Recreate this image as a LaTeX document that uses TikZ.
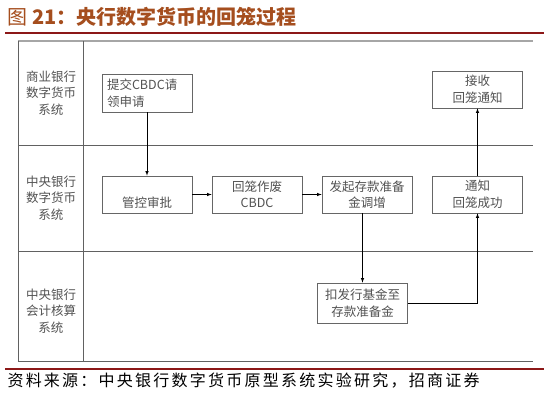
\documentclass[tikz,border=0pt]{standalone}
\usepackage{fontspec}
\setmainfont{Noto Sans CJK SC}
\newfontfamily\srcfont[LetterSpace=14]{Noto Sans CJK SC}
\begin{document}
\begin{tikzpicture}[x=1pt,y=-1pt]
\colorlet{gridc}{black!62}
\colorlet{txt}{black!68}
\definecolor{titlec}{RGB}{165,78,30}
\definecolor{redrule}{RGB}{140,24,24}
\tikzset{box/.style={draw=black!60,line width=0.7pt,minimum width=90pt,minimum height=37pt,
                     inner sep=2pt,align=center,text=txt,font=\fontsize{12.5}{16.5}\selectfont},
         lab/.style={align=center,text=txt,font=\fontsize{12.5}{16.5}\selectfont},
         arr/.style={->,>=latex,line width=0.6pt}}

\useasboundingbox[fill=white] (0,0) rectangle (549,400);

% title, rules and source
\node[anchor=west,text=titlec,font=\fontsize{20}{20}\selectfont] (title) at (4,17) {图 \textbf{21：央行数字货币的回笼过程}};
\draw[redrule,line width=1.5pt] (5,33) -- (544,33);
\draw[redrule,line width=1.5pt] (5,369) -- (544,369);
\node[anchor=west,font=\srcfont\fontsize{16}{16}\selectfont] (src) at (4,381) {资料来源：中央银行数字货币原型系统实验研究，招商证券};

% the lanes
\draw[black!35,line width=1.5pt] (18,41) -- (533,41);
\draw[gridc,line width=0.8pt] (18,41) -- (18,361) (83,41) -- (83,361);
\foreach \y in {145,251,361} \draw[gridc,line width=0.8pt] (18,\y) -- (533,\y);

% lane labels
\node[lab] (lanecb) at (51,93) {商业银行\\数字货币\\系统};
\node[lab] (lanepb) at (51,198) {中央银行\\数字货币\\系统};
\node[lab] (laneacc) at (51,311) {中央银行\\会计核算\\系统};

% steps
\node[box,text width=80pt,align=left,inner sep=5pt] (apply) at (147,93) {提交CBDC请\\领申请};
\node[box,text height=28pt,text depth=2pt] (check) at (147,194.5) {管控审批};
\node[box] (void) at (257,194.5) {回笼作废\\CBDC};
\node[box] (raise) at (367,194.5) {发起存款准备\\金调增};
\node[box] (notify) at (477.5,194.5) {通知\\回笼成功};
\node[box] (recv) at (477.5,89.5) {接收\\回笼通知};
\node[box,minimum height=40pt] (deduct) at (362.5,303) {扣发行基金至\\存款准备金};

% flow
\draw[arr] (apply) -- (check);
\draw[arr] (check) -- (void);
\draw[arr] (void) -- (raise);
\draw[arr] (raise.south -| deduct.north) -- (deduct);
\draw[arr] (deduct) -| (notify);
\draw[arr] (notify) -- (recv);
\end{tikzpicture}
\end{document}
